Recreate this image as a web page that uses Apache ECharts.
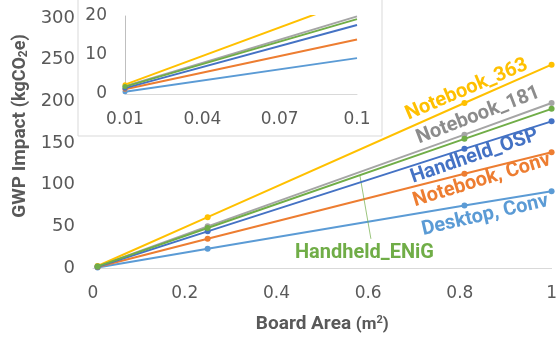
<!DOCTYPE html>
<html>
<head>
<meta charset="utf-8">
<script src="https://cdn.jsdelivr.net/npm/echarts@6/dist/echarts.min.js"></script>
<style>
html,body{margin:0;padding:0;background:#fff;}
#c{width:560px;height:339px;}
</style>
</head>
<body>
<div id="c"></div>
<script>
// ---- data ----
const boardArea = [0.01, 0.25, 0.81, 1];
const insetArea = [0.01, 0.1];
const seriesNames = ['Desktop, Conv', 'Notebook, Conv', 'Notebook_181', 'Notebook_363', 'Handheld_OSP', 'Handheld_ENiG'];
const desktopConv   = [0.6, 23, 75, 92];
const notebookConv  = [1.2, 35, 113, 139];
const notebook181   = [2.0, 50, 160, 198];
const notebook363   = [2.4, 61, 198, 244];
const handheldOSP   = [1.5, 44, 143, 176];
const handheldENiG  = [1.9, 48, 155, 191];
const insetDesktopConv  = [0.6, 9.2];
const insetNotebookConv = [1.2, 14.0];
const insetNotebook181  = [2.0, 19.9];
const insetNotebook363  = [2.4, 24.4];
const insetHandheldOSP  = [1.5, 17.7];
const insetHandheldENiG = [1.9, 19.2];
const mainYTicks = [0, 50, 100, 150, 200, 250, 300];
const insetXTicks = [0.01, 0.04, 0.07, 0.1];
const insetYTicks = [0, 10, 20];

const mainValues = [desktopConv, notebookConv, notebook181, notebook363, handheldOSP, handheldENiG];
const insetValues = [insetDesktopConv, insetNotebookConv, insetNotebook181, insetNotebook363, insetHandheldOSP, insetHandheldENiG];
const colors = ['#5B9BD5', '#ED7D31', '#A5A5A5', '#FFC000', '#4472C4', '#70AD47'];
const labelColors = ['#5B9BD5', '#ED7D31', '#8C8C8C', '#FFC000', '#4472C4', '#70AD47'];
// annotation placement (data space) and rotation
const labelAt = [[0.855, 63], [0.848, 105], [0.84, 183], [0.815, 214], [0.832, 134], [0.592, 18]];
const labelRot = [13, 17, 21, 23, 19, 0];

const tickFont = 'DejaVu Sans';
const nameFont = 'Roboto';
const gray = '#595959';

const series = [];
mainValues.forEach((vals, i) => {
  const s = {
    name: seriesNames[i],
    type: 'line',
    xAxisIndex: 0, yAxisIndex: 0,
    data: boardArea.map((x, j) => [x, vals[j]]),
    symbol: 'circle', symbolSize: 6,
    lineStyle: { color: colors[i], width: 2 },
    itemStyle: { color: colors[i] },
    emphasis: { disabled: true },
    animation: false,
    z: 2 + i,
    markPoint: {
      symbol: 'circle', symbolSize: 1, silent: true, animation: false,
      itemStyle: { color: 'rgba(0,0,0,0)' },
      label: {
        show: true, position: 'inside', rotate: labelRot[i],
        formatter: seriesNames[i], color: labelColors[i],
        fontFamily: nameFont, fontWeight: 'bold', fontSize: 20
      },
      data: [{ coord: labelAt[i] }]
    }
  };
  if (i === 5) {
    s.markLine = {
      symbol: 'none', silent: true, animation: false,
      lineStyle: { color: '#70AD47', width: 1, type: 'solid', opacity: 0.7 },
      label: { show: false },
      data: [[{ coord: [0.582, 111] }, { coord: [0.606, 35] }]]
    };
  }
  series.push(s);
});
insetValues.forEach((vals, i) => {
  series.push({
    name: seriesNames[i] + ' (inset)',
    type: 'line',
    xAxisIndex: 1, yAxisIndex: 1,
    data: insetArea.map((x, j) => (j === 0 ? { value: [x, vals[j]] } : { value: [x, vals[j]], symbol: 'none' })),
    symbol: 'circle', symbolSize: 5,
    clip: true,
    lineStyle: { color: colors[i], width: 2 },
    itemStyle: { color: colors[i] },
    emphasis: { disabled: true },
    animation: false,
    z: 2 + i
  });
});

const chart = echarts.init(document.getElementById('c'), null, { renderer: 'canvas' });
chart.setOption({
  backgroundColor: '#fff',
  animation: false,
  graphic: [{
    type: 'rect', z: 0, silent: true,
    shape: { x: 78, y: -5, width: 304, height: 141 },
    style: { fill: 'none', stroke: '#D9D9D9', lineWidth: 1 }
  }],
  grid: [
    { left: 93, right: 5, top: 18, bottom: 66 },
    { left: 125, right: 203, top: 16, bottom: 245 }
  ],
  xAxis: [
    {
      type: 'value', gridIndex: 0, min: 0, max: 1, interval: 0.2,
      axisLine: { show: true, lineStyle: { color: '#D9D9D9', width: 1 } },
      axisTick: { show: false }, splitLine: { show: false },
      axisLabel: { color: gray, fontFamily: tickFont, fontSize: 17, margin: 17 },
      name: '{a|Board Area }{b|(m}{sup|2}{b|)}',
      nameLocation: 'middle', nameGap: 47,
      nameTextStyle: {
        rich: {
          a: { fontFamily: nameFont, fontWeight: 'bold', fontSize: 19, color: gray },
          b: { fontFamily: nameFont, fontWeight: 'bold', fontSize: 17, color: gray },
          sup: { fontFamily: nameFont, fontWeight: 'bold', fontSize: 11, color: gray, verticalAlign: 'top', padding: [0, 0, 8, 0] }
        }
      }
    },
    {
      type: 'value', gridIndex: 1, min: 0.01, max: 0.1, interval: 0.03,
      axisLine: { show: true, lineStyle: { color: '#D9D9D9', width: 1 } },
      axisTick: { show: false }, splitLine: { show: false },
      axisLabel: {
        color: gray, fontFamily: tickFont, fontSize: 17, margin: 17,
        formatter: v => String(+v.toFixed(2))
      }
    }
  ],
  yAxis: [
    {
      type: 'value', gridIndex: 0, min: 0, max: 300, interval: 50,
      axisLine: { show: false }, axisTick: { show: false }, splitLine: { show: false },
      axisLabel: { color: gray, fontFamily: tickFont, fontSize: 18, margin: 18 },
      name: '{a|GWP Impact }{b|(kgCO}{sub|2}{b|e)}',
      nameLocation: 'middle', nameGap: 60,
      nameTextStyle: {
        padding: [0, 0, 0, 34],
        rich: {
          a: { fontFamily: nameFont, fontWeight: 'bold', fontSize: 19, color: gray },
          b: { fontFamily: nameFont, fontWeight: 'bold', fontSize: 18, color: gray },
          sub: { fontFamily: nameFont, fontWeight: 'bold', fontSize: 12, color: gray, verticalAlign: 'bottom', padding: [6, 0, 0, 0] }
        }
      }
    },
    {
      type: 'value', gridIndex: 1, min: 0, max: 20, interval: 10,
      axisLine: { show: true, lineStyle: { color: '#BFBFBF', width: 1 } },
      axisTick: { show: false }, splitLine: { show: false },
      axisLabel: { color: gray, fontFamily: tickFont, fontSize: 17, margin: 18 }
    }
  ],
  series: series
});
</script>
</body>
</html>
